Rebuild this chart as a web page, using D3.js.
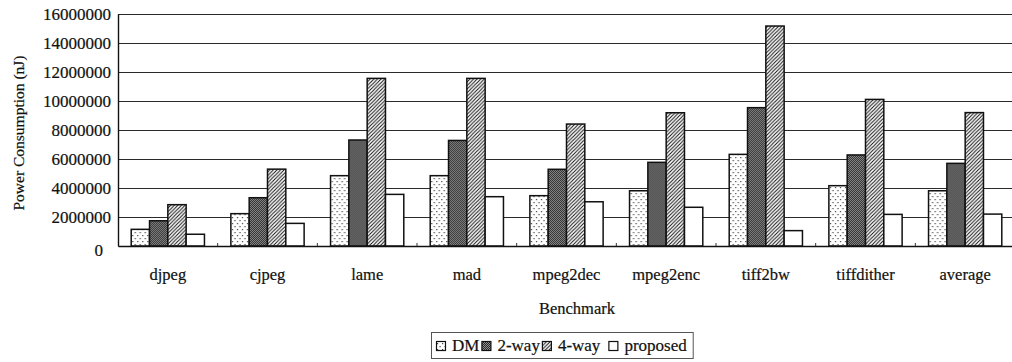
<!DOCTYPE html>
<html>
<head>
<meta charset="utf-8">
<script src="https://cdn.jsdelivr.net/npm/d3@7"></script>
<style>
  html, body { margin: 0; padding: 0; background: #fff; }
  svg { display: block; }
  text { font-family: "Liberation Serif", "Times New Roman", serif; fill: #111; stroke: #111; stroke-width: 0.2px; }
</style>
</head>
<body>
<svg id="chart" width="1012" height="362"></svg>
<script>
// ---- data ----
const categories = ["djpeg", "cjpeg", "lame", "mad", "mpeg2dec", "mpeg2enc", "tiff2bw", "tiffdither", "average"];
const seriesNames = ["DM", "2-way", "4-way", "proposed"];
const dmValues       = [1150000, 2230000, 4850000, 4850000, 3470000, 3810000, 6320000, 4160000, 3810000];
const twoWayValues   = [1740000, 3330000, 7310000, 7280000, 5290000, 5770000, 9540000, 6280000, 5700000];
const fourWayValues  = [2850000, 5300000, 11560000, 11560000, 8410000, 9190000, 15170000, 10110000, 9200000];
const proposedValues = [810000, 1560000, 3560000, 3400000, 3050000, 2670000, 1060000, 2180000, 2200000];
const yTicks = [0, 2000000, 4000000, 6000000, 8000000, 10000000, 12000000, 14000000, 16000000];
const yTitle = "Power Consumption (nJ)";
const xTitle = "Benchmark";

const seriesValues = [dmValues, twoWayValues, fourWayValues, proposedValues];
const fills = ["url(#pDots)", "url(#pCross)", "url(#pHatch)", "#fff"];

const svg = d3.select("#chart");

// ---- patterns ----
const defs = svg.append("defs");
const pd = defs.append("pattern").attr("id", "pDots").attr("patternUnits", "userSpaceOnUse")
  .attr("width", 5).attr("height", 6);
pd.append("rect").attr("width", 5).attr("height", 6).attr("fill", "#fff");
pd.append("rect").attr("x", 1).attr("y", 1).attr("width", 1.2).attr("height", 1.2).attr("fill", "#444");
pd.append("rect").attr("x", 3.5).attr("y", 4).attr("width", 1.2).attr("height", 1.2).attr("fill", "#444");

const pc = defs.append("pattern").attr("id", "pCross").attr("patternUnits", "userSpaceOnUse")
  .attr("width", 2).attr("height", 2);
pc.append("rect").attr("width", 2).attr("height", 2).attr("fill", "#8f8f8f");
pc.append("rect").attr("x", 0).attr("y", 0).attr("width", 1).attr("height", 1).attr("fill", "#2a2a2a");
pc.append("rect").attr("x", 1).attr("y", 1).attr("width", 1).attr("height", 1).attr("fill", "#2a2a2a");

const ph = defs.append("pattern").attr("id", "pHatch").attr("patternUnits", "userSpaceOnUse")
  .attr("width", 3.6).attr("height", 3.6);
ph.append("rect").attr("width", 3.6).attr("height", 3.6).attr("fill", "#fff");
ph.append("path").attr("d", "M-0.9,0.9 L0.9,-0.9 M0,3.6 L3.6,0 M2.7,4.5 L4.5,2.7")
  .attr("stroke", "#111").attr("stroke-width", 1);

// ---- scales ----
const plotLeft = 118, plotRight = 1015, plotTop = 14, plotBottom = 246;
const x0 = d3.scaleBand().domain(categories).range([plotLeft, plotRight])
  .paddingInner(0.265).paddingOuter(0.1325);
const x1 = d3.scaleBand().domain(seriesNames).range([0, x0.bandwidth()]).padding(0);
const y = d3.scaleLinear().domain([0, 16000000]).range([plotBottom, plotTop]);

// ---- gridlines ----
svg.append("g").selectAll("line").data(yTicks.filter(t => t > 0)).join("line")
  .attr("x1", plotLeft).attr("x2", 1012)
  .attr("y1", d => Math.round(y(d)) + 0.5).attr("y2", d => Math.round(y(d)) + 0.5)
  .attr("stroke", "#2a2a2a").attr("stroke-width", 1.2);

// ---- y axis ----
const yAxis = d3.axisLeft(y).tickValues(yTicks).tickSize(0).tickPadding(7)
  .tickFormat(d3.format("d"));
const gy = svg.append("g").attr("transform", `translate(${plotLeft},0)`).call(yAxis);
gy.select(".domain").attr("stroke", "#111").attr("stroke-width", 1.4);
gy.selectAll(".tick text").style("font-family", '"Liberation Serif", serif')
  .style("font-size", "17px").attr("fill", "#111");
gy.selectAll(".tick").filter(d => d === 0).select("text").attr("dx", -8).attr("dy", "0.55em");

// ---- bars ----
const groups = svg.append("g").selectAll("g").data(categories).join("g")
  .attr("transform", d => `translate(${x0(d)},0)`);
groups.selectAll("rect")
  .data((c, i) => seriesNames.map((s, j) => ({ s, j, v: seriesValues[j][i] })))
  .join("rect")
  .attr("x", d => x1(d.s))
  .attr("y", d => y(d.v))
  .attr("width", x1.bandwidth())
  .attr("height", d => plotBottom - y(d.v))
  .attr("fill", d => fills[d.j])
  .attr("stroke", "#111").attr("stroke-width", 1.5);

// ---- x axis ----
const xAxis = d3.axisBottom(x0).tickSize(0).tickPadding(22);
const gx = svg.append("g").attr("transform", `translate(0,${plotBottom})`).call(xAxis);
gx.select(".domain").attr("stroke", "#111").attr("stroke-width", 1.7);
gx.selectAll(".tick text").style("font-family", '"Liberation Serif", serif')
  .style("font-size", "16.5px").attr("fill", "#111");
// small category separator ticks
svg.append("g").selectAll("line").data(categories.slice(1)).join("line")
  .attr("x1", d => x0(d) - x0.step() * x0.paddingInner() / 2)
  .attr("x2", d => x0(d) - x0.step() * x0.paddingInner() / 2)
  .attr("y1", plotBottom - 3).attr("y2", plotBottom)
  .attr("stroke", "#333").attr("stroke-width", 1);

// ---- titles ----
svg.append("text").attr("x", 577).attr("y", 314).attr("text-anchor", "middle")
  .style("font-size", "16.5px").text(xTitle);
svg.append("text").attr("transform", "translate(24,133) rotate(-90)").attr("text-anchor", "middle")
  .style("font-size", "15.5px").text(yTitle);

// ---- legend (sequential layout) ----
const lg = svg.append("g");
const box = lg.append("rect").attr("y", 332.5).attr("height", 26)
  .attr("fill", "#fff").attr("stroke", "#555").attr("stroke-width", 1);
const items = lg.append("g");
let cx = 5;
seriesNames.forEach((s, j) => {
  if (j === 3) cx += 6;
  items.append("rect").attr("x", cx + 0.5).attr("y", 341.5).attr("width", 9).attr("height", 9)
    .attr("fill", fills[j]).attr("stroke", "#111").attr("stroke-width", 1.2);
  cx += 9 + 7;
  const t = items.append("text").attr("x", cx).attr("y", 351)
    .style("font-size", "17px").text(s);
  cx += t.node().getComputedTextLength() + 2;
});
const boxW = cx + 4;
const boxLeft = Math.round(562 - boxW / 2);
box.attr("x", boxLeft + 0.5).attr("width", boxW);
items.attr("transform", `translate(${boxLeft},0)`);
</script>
</body>
</html>
